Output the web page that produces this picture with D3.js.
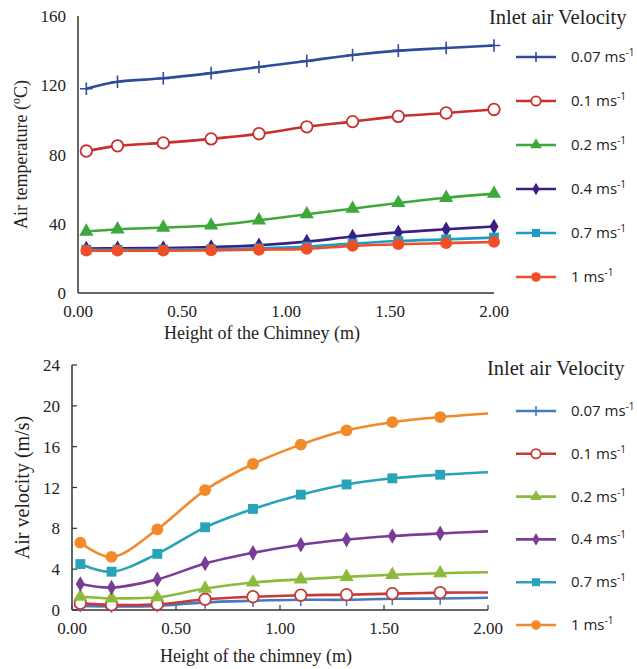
<!DOCTYPE html>
<html>
<head>
<meta charset="utf-8">
<title>Chimney temperature and velocity</title>
<script src="https://d3js.org/d3.v7.min.js"></script>
<style>
  body { margin: 0; background: #fff; }
</style>
</head>
<body>
<svg width="637" height="669"></svg>
<script>
// heights along the chimney (m)
const heights = [0.04, 0.19, 0.41, 0.64, 0.87, 1.10, 1.32, 1.54, 1.77, 2.00];
const seriesNames = ['0.07', '0.1', '0.2', '0.4', '0.7', '1'];

// air temperature (°C)
const temp007 = [118, 122, 124, 127, 130.5, 134, 137.5, 140, 141.5, 143];
const temp01  = [82, 85, 86.7, 89, 92, 96, 99, 102, 104, 106];
const temp02  = [35.5, 36.8, 37.8, 39, 42, 45.5, 48.7, 52, 55, 57.4];
const temp04  = [25.7, 25.8, 26, 26.5, 27.6, 29.7, 32.6, 35, 36.8, 38.4];
const temp07  = [25, 25, 25, 25.3, 25.8, 26.8, 28.5, 30, 31, 32];
const temp1   = [24.5, 24.5, 24.5, 24.6, 25, 25.5, 27.2, 28.2, 28.8, 29.5];

// air velocity (m/s)
const vel007 = [0.4, 0.35, 0.4, 0.75, 0.9, 1.0, 1.0, 1.1, 1.12, 1.2];
const vel01  = [0.65, 0.5, 0.55, 1.05, 1.3, 1.45, 1.5, 1.6, 1.7, 1.72];
const vel02  = [1.3, 1.15, 1.25, 2.1, 2.7, 3.0, 3.25, 3.45, 3.6, 3.7];
const vel04  = [2.55, 2.2, 3.0, 4.55, 5.6, 6.4, 6.9, 7.25, 7.5, 7.7];
const vel07  = [4.5, 3.75, 5.5, 8.1, 9.9, 11.3, 12.3, 12.9, 13.25, 13.5];
const vel1   = [6.6, 5.2, 7.9, 11.75, 14.3, 16.2, 17.6, 18.4, 18.9, 19.25];

const xTicks = [0, 0.5, 1, 1.5, 2];
const tempTicks = [0, 40, 80, 120, 160];
const velTicks = [0, 4, 8, 12, 16, 20, 24];

const markers = ['plus', 'ring', 'triangle', 'diamond', 'square', 'circle'];
const topColors = ['#2f4c9c', '#c8302f', '#3fa83c', '#3a2085', '#1a9ec6', '#ee4f28'];
const botColors = ['#4a78bd', '#c53a3b', '#8dba3d', '#7a3d97', '#28a3b7', '#f28a2a'];

const SERIF = '"Liberation Serif", "Times New Roman", serif';
const SANS = '"Open Sans", "Liberation Sans", sans-serif';

const svg = d3.select('svg');

function drawMarker(g, type, color, s) {
  if (type === 'plus') {
    g.append('path').attr('d', `M${-6*s},0H${6*s}M0,${-6*s}V${6*s}`)
      .attr('stroke', color).attr('stroke-width', 1.6).attr('fill', 'none');
  } else if (type === 'ring') {
    g.append('circle').attr('r', 5.5*s).attr('fill', '#fff')
      .attr('stroke', color).attr('stroke-width', 1.8);
  } else {
    const sym = {triangle: d3.symbolTriangle, diamond: d3.symbolDiamond,
                 square: d3.symbolSquare, circle: d3.symbolCircle}[type];
    const size = {triangle: 80, diamond: 64, square: 88, circle: 100}[type];
    g.append('path').attr('d', d3.symbol(sym, size * s * s)()).attr('fill', color);
  }
}

function panel(opt) {
  const x = d3.scaleLinear().domain([0, 2]).range([opt.left, opt.right]);
  const y = d3.scaleLinear().domain([0, opt.yMax]).range([opt.bottom, opt.top]);
  const g = svg.append('g');

  // axes lines
  g.append('line').attr('x1', opt.left).attr('x2', opt.left)
    .attr('y1', opt.top).attr('y2', opt.bottom).attr('stroke', '#333').attr('stroke-width', 1.5);
  g.append('line').attr('x1', opt.left).attr('x2', opt.right)
    .attr('y1', opt.bottom).attr('y2', opt.bottom).attr('stroke', '#333').attr('stroke-width', 1.5);

  if (opt.ticks) {
    g.selectAll('.yt').data(opt.yTicks).enter().append('line')
      .attr('x1', opt.left).attr('x2', opt.left + 5)
      .attr('y1', d => y(d)).attr('y2', d => y(d)).attr('stroke', '#333').attr('stroke-width', 1.2);
    g.selectAll('.xt').data(xTicks).enter().append('line')
      .attr('x1', d => x(d)).attr('x2', d => x(d))
      .attr('y1', opt.bottom).attr('y2', opt.bottom - 5).attr('stroke', '#333').attr('stroke-width', 1.2);
  }

  g.selectAll('.yl').data(opt.yTicks).enter().append('text')
    .attr('font-family', SERIF).attr('fill', '#222')
    .attr('x', opt.left - 12).attr('y', d => y(d) + 6).attr('text-anchor', 'end')
    .attr('font-size', 17).text(d => d);
  g.selectAll('.xl').data(xTicks).enter().append('text')
    .attr('font-family', SERIF).attr('fill', '#222')
    .attr('x', d => x(d)).attr('y', opt.bottom + 24).attr('text-anchor', 'middle')
    .attr('font-size', 17).text(d => d.toFixed(2));

  g.append('text').attr('font-family', SERIF).attr('fill', '#222').attr('font-size', 18)
    .attr('x', (opt.left + opt.right) / 2 - 24).attr('y', opt.bottom + opt.xTitleDy)
    .attr('text-anchor', 'middle').text(opt.xTitle);

  const yt = g.append('text').attr('font-family', SERIF).attr('fill', '#222')
    .attr('font-size', opt.yTitleSize).attr('text-anchor', 'middle')
    .attr('transform', `translate(${opt.yTitleX},${(opt.top + opt.bottom) / 2}) rotate(-90)`);
  opt.yTitle(yt);

  const line = d3.line().x(d => x(d[0])).y(d => y(d[1])).curve(d3.curveCatmullRom.alpha(0.5));

  opt.series.forEach((vals, i) => {
    const pts = heights.map((h, k) => [h, vals[k]]);
    g.append('path').attr('d', line(pts)).attr('fill', 'none')
      .attr('stroke', opt.colors[i]).attr('stroke-width', 2.6);
  });
  opt.series.forEach((vals, i) => {
    const pts = heights.map((h, k) => [h, vals[k]]).slice(0, opt.markerCount);
    pts.forEach(p => {
      const m = g.append('g').attr('transform', `translate(${x(p[0])},${y(p[1])})`);
      drawMarker(m, markers[i], opt.colors[i], opt.markerScale);
    });
  });

  // legend
  g.append('text').attr('font-family', SERIF).attr('fill', '#222').attr('font-size', 20.5)
    .attr('x', opt.legendTitleX).attr('y', opt.legendTitleY).text('Inlet air Velocity');
  seriesNames.forEach((name, i) => {
    const ly = opt.legendY + i * opt.legendStep;
    g.append('line').attr('x1', 516).attr('x2', 556).attr('y1', ly).attr('y2', ly)
      .attr('stroke', opt.colors[i]).attr('stroke-width', 2.6);
    const m = g.append('g').attr('transform', `translate(536,${ly})`);
    drawMarker(m, markers[i], opt.colors[i], 0.85);
    const t = g.append('text').attr('font-family', SANS).attr('fill', '#222')
      .attr('font-size', 15).attr('x', 571).attr('y', ly + 5);
    t.append('tspan').text(name + ' ms');
    t.append('tspan').attr('font-size', 10).attr('dy', -6).text('-1');
  });
}

panel({
  left: 78, right: 494, top: 16, bottom: 293, yMax: 160,
  yTicks: tempTicks, ticks: false,
  series: [temp007, temp01, temp02, temp04, temp07, temp1],
  colors: topColors, markerCount: 10, markerScale: 1.05,
  xTitle: 'Height of the Chimney (m)', xTitleDy: 46, yTitleX: 27, yTitleSize: 18,
  yTitle: t => {
    t.append('tspan').text('Air temperature (');
    t.append('tspan').attr('font-size', 12).attr('dy', -7).text('o');
    t.append('tspan').attr('dy', 7).text('C)');
  },
  legendTitleX: 489, legendTitleY: 24, legendY: 57, legendStep: 44
});

panel({
  left: 72, right: 488, top: 365, bottom: 610, yMax: 24,
  yTicks: velTicks, ticks: true,
  series: [vel007, vel01, vel02, vel04, vel07, vel1],
  colors: botColors, markerCount: 9, markerScale: 1.05,
  xTitle: 'Height of the chimney (m)', xTitleDy: 52, yTitleX: 29, yTitleSize: 20,
  yTitle: t => t.text('Air velocity  (m/s)'),
  legendTitleX: 487, legendTitleY: 375, legendY: 411, legendStep: 42.8
});
</script>
</body>
</html>
